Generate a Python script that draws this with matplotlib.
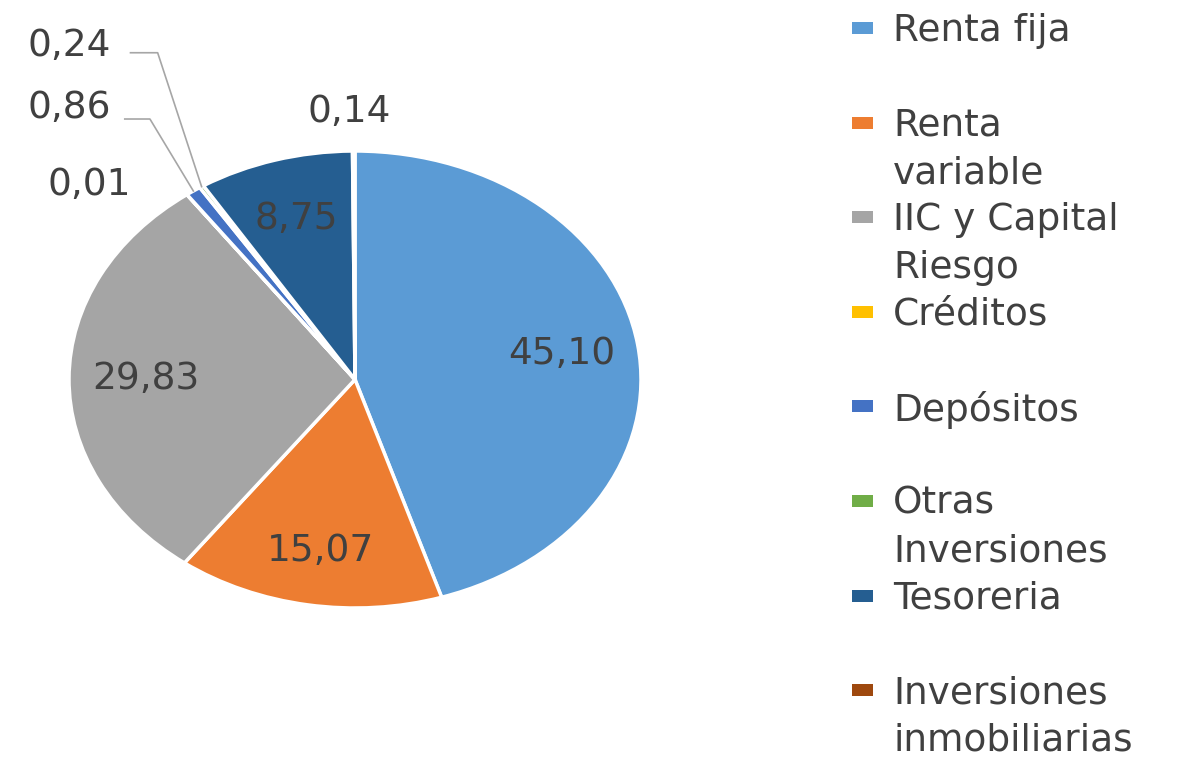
import numpy as np
import matplotlib
matplotlib.use("Agg")
import matplotlib.pyplot as plt
from matplotlib.patches import Rectangle

categories = ["Renta fija", "Renta\nvariable", "IIC y Capital\nRiesgo", "Créditos",
              "Depósitos", "Otras\nInversiones", "Tesoreria", "Inversiones\ninmobiliarias"]
values = [45.10, 15.07, 29.83, 0.01, 0.86, 0.24, 8.75, 0.14]
colors = ["#5B9BD5", "#ED7D31", "#A5A5A5", "#FFC000", "#4472C4", "#70AD47", "#255E91", "#9E480E"]

W, H = 1179, 758
fig = plt.figure(figsize=(W / 100, H / 100), dpi=100)
plt.rcParams['font.family'] = ['DejaVu Sans']

ax = fig.add_axes([69 / W, (H - 608) / H, 572 / W, 457 / H])
wedges, _ = ax.pie(values, colors=colors, startangle=90, counterclock=False,
                   wedgeprops=dict(edgecolor="white", linewidth=2.5))
ax.set_aspect('auto')
ax.set_xlim(-1, 1)
ax.set_ylim(-1, 1)

label_color = "#404040"
fs = 27

def fmt(v):
    return f"{v:.2f}".replace('.', ',')

# label placement: inside for big slices, outside for small ones (layout offsets)
outside = {3: (-0.93, 0.85), 4: (-1.00, 1.19), 5: (-1.00, 1.46), 7: (-0.02, 1.17)}
leaders = {4: (-0.805, -0.717, 1.14), 5: (-0.785, -0.69, 1.43)}

for i, (w, v) in enumerate(zip(wedges, values)):
    mid = np.deg2rad((w.theta1 + w.theta2) / 2)
    if i in outside:
        x, y = outside[i]
    else:
        r = 0.73
        x, y = r * np.cos(mid), r * np.sin(mid)
        if i == 1:
            y -= 0.03
    ax.text(x, y, fmt(v), ha='center', va='center', fontsize=fs, color=label_color,
            clip_on=False)
    if i in leaders:
        x0, x1, yl = leaders[i]
        ex, ey = 1.0 * np.cos(mid), 1.0 * np.sin(mid)
        ax.plot([x0, x1, ex], [yl, yl, ey], color="#A6A6A6", lw=1.2, clip_on=False)

# legend (manual, equal slots, marker aligned to first line)
lx_marker = 852 / W
lx_text = 893 / W
for i, (cat, c) in enumerate(zip(categories, colors)):
    yc = 28 + i * 94.6
    fig.add_artist(Rectangle((lx_marker, (H - yc - 6) / H), 21 / W, 12 / H,
                             transform=fig.transFigure, facecolor=c, edgecolor='none'))
    fig.text(lx_text, (H - yc + 15) / H, cat, ha='left', va='top', fontsize=fs,
             color=label_color, linespacing=1.42)

fig.savefig("out.png", dpi=100)
